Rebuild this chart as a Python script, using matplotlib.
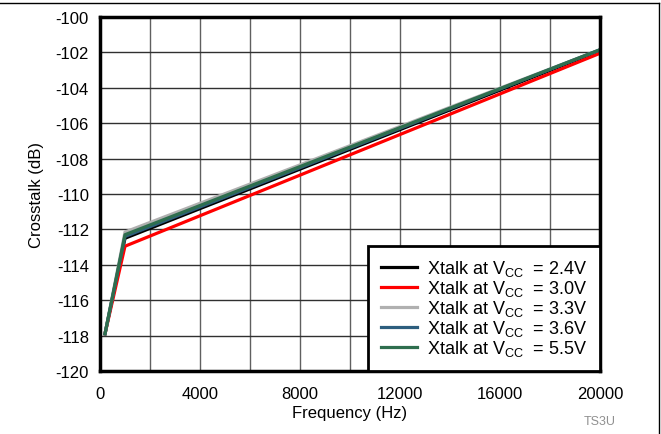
import numpy as np
import matplotlib.pyplot as plt
from matplotlib.lines import Line2D

plt.rcParams['font.family'] = ['Liberation Sans', 'DejaVu Sans']
plt.rcParams['mathtext.fontset'] = 'custom'
plt.rcParams['mathtext.rm'] = 'Liberation Sans'
plt.rcParams['axes.unicode_minus'] = False

freq = [200, 1000, 20000]
xt_24 = [-117.9, -112.5, -101.9]
xt_30 = [-117.9, -112.95, -102.05]
xt_33 = [-117.9, -112.15, -101.85]
xt_36 = [-117.9, -112.4, -101.85]
xt_55 = [-117.9, -112.3, -101.85]

vcc = ['2.4V', '3.0V', '3.3V', '3.6V', '5.5V']
series = [xt_24, xt_30, xt_33, xt_36, xt_55]
colors = ['#000000', '#ff0000', '#b0b0b0', '#2d5e7e', '#2e6e4e']

fig = plt.figure(figsize=(6.61, 4.35), dpi=100)
ax = fig.add_axes([100/661, 1-372/435, 500/661, 354/435])

for s, c, v in zip(series, colors, vcc):
    ax.plot(freq, s, color=c, lw=2.3, label=r'Xtalk at V$_{\mathregular{CC}}$  = ' + v)

ax.set_xlim(0, 20000)
ax.set_ylim(-120, -100)
ax.set_xticks(np.arange(0, 20001, 4000))
ax.set_xticks(np.arange(0, 20001, 2000), minor=True)
ax.set_yticks(np.arange(-120, -99, 2))
ax.tick_params(which='both', length=0, labelsize=12)
ax.tick_params(axis='x', pad=11)
ax.tick_params(axis='y', pad=8)
ax.grid(which='major', axis='y', color='#303030', lw=1)
ax.grid(which='both', axis='x', color='#606060', lw=1)
ax.set_axisbelow(True)
for sp in ax.spines.values():
    sp.set_linewidth(2.5)
ax.set_xlabel('Frequency (Hz)', fontsize=12, labelpad=3)
ax.set_ylabel('Crosstalk (dB)', fontsize=12, labelpad=8)

leg = ax.legend(loc='lower right', fontsize=13, frameon=True, fancybox=False,
                handlelength=2.0, handletextpad=0.55, borderpad=0.7,
                labelspacing=0.0, borderaxespad=0)
leg.get_frame().set_edgecolor('black')
leg.get_frame().set_linewidth(2)
leg.get_frame().set_alpha(1)

fig.text(600/661, 1-422/435, 'TS3U', fontsize=9, color='#909090', ha='center', va='center')

# frame lines at top and right of image
fig.add_artist(Line2D([0, 659/661], [1-4/435, 1-4/435], color='black', lw=1, transform=fig.transFigure))
fig.add_artist(Line2D([659/661, 659/661], [0, 1-4/435], color='black', lw=1, transform=fig.transFigure))

fig.savefig('out.png', dpi=100)
